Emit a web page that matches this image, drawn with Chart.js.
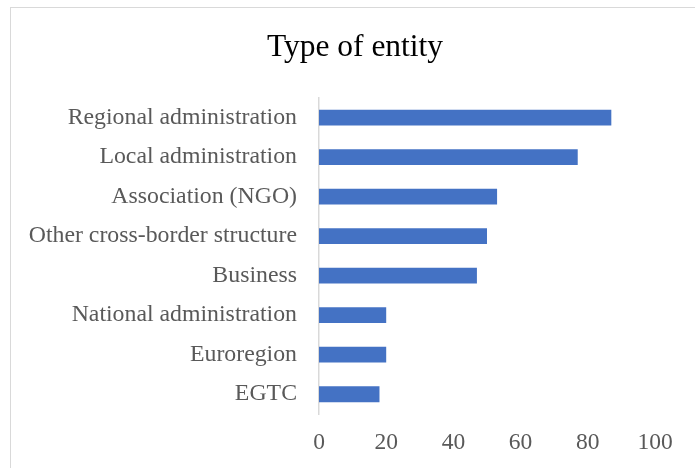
<!DOCTYPE html>
<html>
<head>
<meta charset="utf-8">
<script src="https://cdn.jsdelivr.net/npm/chart.js@4.4.1/dist/chart.umd.min.js"></script>
<style>
  html, body { margin: 0; padding: 0; background: #fff; }
  body { width: 695px; height: 468px; position: relative; overflow: hidden; }
  /* frame around the chart; right and bottom edges fall outside the window */
  .frame {
    position: absolute; left: 10px; top: 7px; width: 720px; height: 500px;
    border-left: 1.5px solid #d9d9d9; border-top: 1.5px solid #d9d9d9;
  }
  .wrap { position: absolute; left: 0; top: 0; width: 695px; height: 468px; }
</style>
</head>
<body>
<div class="frame"></div>
<div class="wrap"><canvas id="entityChart"></canvas></div>
<script>
// Survey answers per type of entity
const entityTypes = [
    'Regional administration',
    'Local administration',
    'Association (NGO)',
    'Other cross-border structure',
    'Business',
    'National administration',
    'Euroregion',
    'EGTC'
];
const entityCounts = [87, 77, 53, 50, 47, 20, 20, 18];
const axisMin = 0, axisMax = 100, axisStep = 20;

const serif = '"Liberation Serif", "Times New Roman", Times, serif';
const labelGrey = '#595959';

new Chart(document.getElementById('entityChart'), {
    type: 'bar',
    data: {
        labels: entityTypes,
        datasets: [{
            data: entityCounts,
            backgroundColor: '#4472C4',
            borderWidth: 0,
            barPercentage: 0.4,
            categoryPercentage: 1.0
        }]
    },
    options: {
        indexAxis: 'y',
        responsive: true, maintainAspectRatio: false,
        animation: false,
        layout: { padding: { left: 15, right: 0, top: 0, bottom: 0 } },
        plugins: {
            legend: { display: false },
            tooltip: { enabled: false },
            title: {
                display: true,
                text: 'Type of entity',
                color: '#000',
                font: { family: serif, size: 31.5, weight: 'normal' },
                padding: { top: 29, bottom: 31 }
            }
        },
        scales: {
            x: {
                min: axisMin, max: axisMax,
                grid: { display: false, drawTicks: false },
                border: { display: false },
                ticks: {
                    stepSize: axisStep,
                    color: labelGrey,
                    padding: 15,
                    font: { family: serif, size: 23.5 }
                },
                afterFit: s => { s.height = 54; }
            },
            y: {
                grid: { display: false, drawTicks: false },
                border: { display: true, color: '#d9d9d9', width: 1.5 },
                ticks: {
                    color: labelGrey,
                    padding: 22,
                    autoSkip: false,
                    font: { family: serif, size: 23.8 }
                },
                afterFit: s => { s.width = 304; }
            },
            // empty right-hand gutter so the value axis ends short of the edge
            gutter: {
                type: 'linear', axis: 'y', position: 'right',
                grid: { display: false, drawTicks: false },
                border: { display: false },
                ticks: { display: false },
                afterFit: s => { s.width = 40; }
            }
        }
    }
});
</script>
</body>
</html>
